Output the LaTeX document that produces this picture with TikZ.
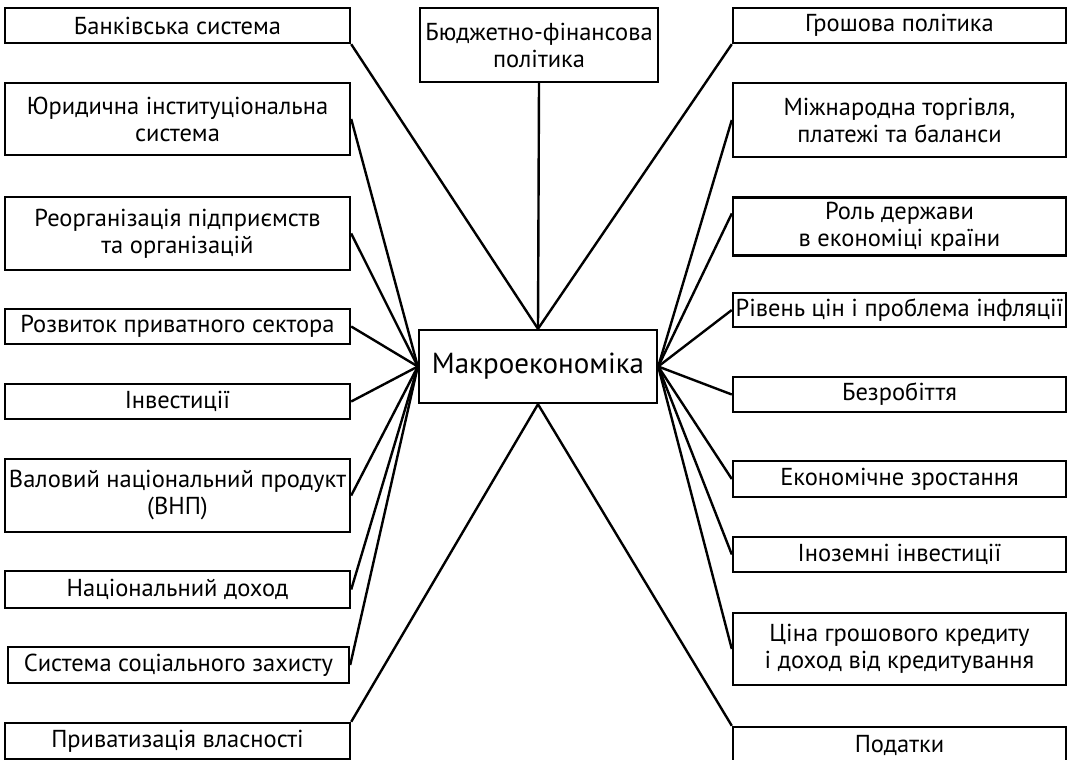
\documentclass[tikz,border=0pt]{standalone}
\usepackage{fontspec}
\setmainfont{PT Sans}
\begin{document}
\begin{tikzpicture}[x=1pt,y=-1pt]
\tikzset{
  box/.style={draw, line width=2.4pt, inner sep=0pt, align=center, font=\fontsize{24.5}{27}\selectfont},
  lbox/.style={box, minimum width=345pt},
  rbox/.style={box, minimum width=333pt},
  conn/.style={line width=2.4pt},
}
\useasboundingbox (0,0) rectangle (1071,760);
% centre
\node[box, minimum width=238pt, minimum height=73pt, font=\fontsize{29}{32}\selectfont] (c) at (538,366.5) {Макроекономіка};
\node[box, minimum width=238pt, minimum height=74pt] (t) at (539,45) {Бюджетно-фінансова\\політика};
% left
\node[lbox, minimum height=35pt] (l1) at (177.5,25.5) {Банківська система};
\node[lbox, minimum height=72pt] (l2) at (177.5,119) {Юридична інституціональна\\система};
\node[lbox, minimum height=73pt] (l3) at (177.5,233.5) {Реорганізація підприємств\\та організацій};
\node[lbox, minimum height=35pt] (l4) at (177.5,326.5) {Розвиток приватного сектора};
\node[lbox, minimum height=35pt] (l5) at (177.5,401.5) {Інвестиції};
\node[lbox, minimum height=73pt] (l6) at (177.5,495.5) {Валовий національний продукт\\(ВНП)};
\node[lbox, minimum height=37pt] (l7) at (177.5,589.5) {Національний доход};
\node[lbox, minimum height=36pt, minimum width=341pt] (l8) at (178.5,665) {Система соціального захисту};
\node[lbox, minimum height=36pt] (l9) at (177.5,741) {Приватизація власності};
% right
\node[rbox, minimum height=35pt] (r1) at (899.5,25.5) {Грошова політика};
\node[rbox, minimum height=74pt] (r2) at (899.5,120) {Міжнародна торгівля,\\платежі та баланси};
\node[rbox, minimum height=58pt] (r3) at (899.5,226.5) {Роль держави\\в економіці країни};
\node[rbox, minimum height=34pt] (r4) at (899.5,310) {Рівень цін і проблема інфляції};
\node[rbox, minimum height=35pt] (r5) at (899.5,394.5) {Безробіття};
\node[rbox, minimum height=36pt] (r6) at (899.5,479) {Економічне зростання};
\node[rbox, minimum height=35pt] (r7) at (899.5,554.5) {Іноземні інвестиції};
\node[rbox, minimum height=72pt] (r8) at (899.5,649) {Ціна грошового кредиту\\і доход від кредитування};
\node[rbox, minimum height=36pt] (r9) at (899.5,745) {Податки};
% connectors
\draw[conn] (t.south) -- (c.north);
\draw[conn] (l1.south east) -- (c.north);
\draw[conn] (r1.south west) -- (c.north);
\draw[conn] (l9.north east) -- (c.south);
\draw[conn] (r9.north west) -- (c.south);
\foreach \n in {l2,l3,l4,l5,l6,l7,l8} \draw[conn] (\n.east) -- (c.west);
\foreach \n in {r2,r4,r5,r6,r7,r8} \draw[conn] (\n.west) -- (c.east);
\draw[conn] ([yshift=13pt]r3.west) -- (c.east);
\end{tikzpicture}
\end{document}
